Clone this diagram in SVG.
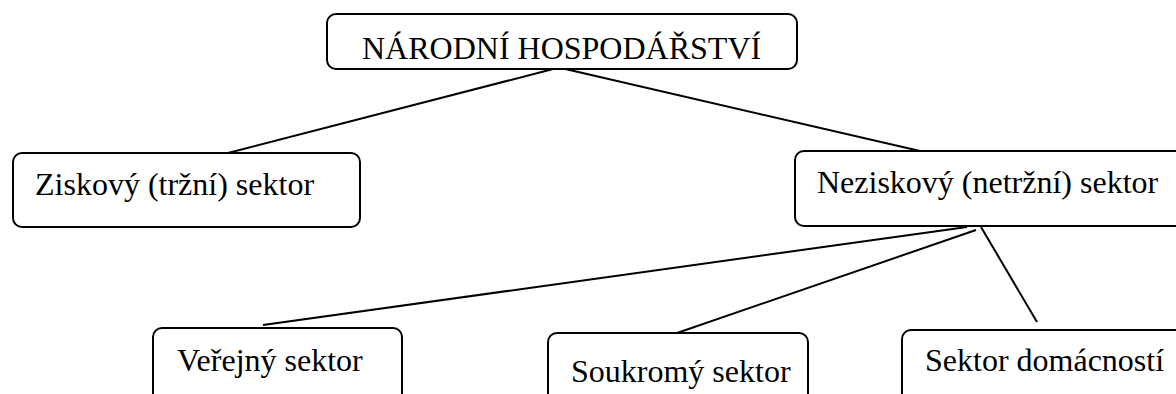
<svg xmlns="http://www.w3.org/2000/svg" width="1176" height="394" viewBox="0 0 1176 394">
<style>
.box{fill:#fff;stroke:#000;stroke-width:2}
.lbl{font-family:"Liberation Serif","Times New Roman",serif;font-size:32px;fill:#000}
.conn line{stroke:#000;stroke-width:2}
</style>
<rect width="1176" height="394" fill="#fff"/>
<g class="conn" id="connectors">
<line x1="557" y1="68" x2="228" y2="153"/>
<line x1="561" y1="68" x2="920" y2="151"/>
<line x1="967" y1="227" x2="263" y2="325"/>
<line x1="976" y1="230" x2="677" y2="333"/>
<line x1="981" y1="227" x2="1037" y2="322"/>
</g>
<g id="n-root">
<rect class="box" x="327" y="14" width="470" height="55" rx="9"/>
<text class="lbl" x="362" y="59">NÁRODNÍ HOSPODÁŘSTVÍ</text>
</g>
<g id="n-ziskovy">
<rect class="box" x="13" y="153" width="347" height="74" rx="9"/>
<text class="lbl" x="35" y="195">Ziskový (tržní) sektor</text>
</g>
<g id="n-neziskovy">
<rect class="box" x="795" y="151" width="400" height="75" rx="9"/>
<text class="lbl" x="817" y="193">Neziskový (netržní) sektor</text>
</g>
<g id="n-verejny">
<rect class="box" x="153" y="328" width="249" height="80" rx="9"/>
<text class="lbl" x="177" y="371">Veřejný sektor</text>
</g>
<g id="n-soukromy">
<rect class="box" x="548" y="333" width="260" height="80" rx="9"/>
<text class="lbl" x="571" y="382">Soukromý sektor</text>
</g>
<g id="n-domacnosti">
<rect class="box" x="902" y="330" width="300" height="80" rx="9"/>
<text class="lbl" x="925" y="371">Sektor domácností</text>
</g>
</svg>
